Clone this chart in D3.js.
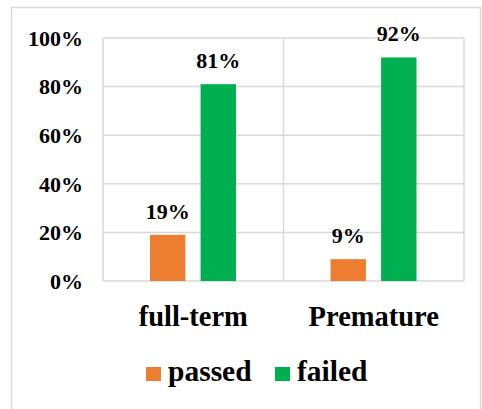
<!DOCTYPE html>
<html>
<head>
<meta charset="utf-8">
<script src="https://cdn.jsdelivr.net/npm/d3@7/dist/d3.min.js"></script>
<style>
  html, body { margin: 0; padding: 0; background: #fff; }
  svg { display: block; }
  text { font-family: "Liberation Serif", "DejaVu Serif", serif; font-weight: bold; fill: #000; }
</style>
</head>
<body>
<svg id="chart" width="482" height="409"></svg>
<script>
// Share of infants passing / failing, by birth group
const categories = ["full-term", "Premature"];
const seriesNames = ["passed", "failed"];
const passed = [19, 9];
const failed = [81, 92];
const yTicks = [0, 20, 40, 60, 80, 100];
const colors = ["#ed7d31", "#00b050"];

const svg = d3.select("#chart");
const W = 482, H = 409;

// chart frame
svg.append("rect")
  .attr("x", 11.5).attr("y", 7.5)
  .attr("width", W - 13).attr("height", H)
  .attr("fill", "#fff").attr("stroke", "#d9d9d9").attr("stroke-width", 1.5);

const plot = { left: 103, right: 464, top: 38, bottom: 281 };

const x = d3.scaleBand().domain(categories).range([plot.left, plot.right]);
const xSeries = d3.scaleBand().domain(seriesNames)
  .range([47, 133]).paddingInner(0.3);
const y = d3.scaleLinear().domain([0, 100]).range([plot.bottom, plot.top]);

const g = svg.append("g");

// horizontal gridlines
g.selectAll("line.h").data(yTicks).join("line")
  .attr("class", "h")
  .attr("x1", plot.left).attr("x2", plot.right)
  .attr("y1", d => y(d)).attr("y2", d => y(d))
  .attr("stroke", "#d9d9d9").attr("stroke-width", 1.5);

// vertical gridlines at category boundaries
const bounds = [plot.left, ...categories.map(c => x(c) + x.bandwidth())];
g.selectAll("line.v").data(bounds).join("line")
  .attr("class", "v")
  .attr("x1", d => d).attr("x2", d => d)
  .attr("y1", plot.top).attr("y2", plot.bottom)
  .attr("stroke", "#d9d9d9").attr("stroke-width", 1.5);

// y axis labels
const yAxis = d3.axisLeft(y).tickValues(yTicks).tickFormat(d => d + "%").tickSize(0).tickPadding(20);
const ya = svg.append("g").attr("transform", `translate(${plot.left},0)`).call(yAxis);
ya.select(".domain").remove();
ya.selectAll("text").attr("font-size", 22).attr("font-family", null).attr("fill", "#000").attr("dy", "0.33em");

// bars
const rows = categories.map((c, i) => ({ cat: c, values: [passed[i], failed[i]] }));
const grp = svg.selectAll("g.cat").data(rows).join("g")
  .attr("class", "cat")
  .attr("transform", d => `translate(${x(d.cat)},0)`);

grp.selectAll("rect").data(d => d.values.map((v, j) => ({ s: seriesNames[j], v, j }))).join("rect")
  .attr("x", d => xSeries(d.s))
  .attr("width", xSeries.bandwidth())
  .attr("y", d => y(d.v))
  .attr("height", d => y(0) - y(d.v))
  .attr("fill", d => colors[d.j]);

grp.selectAll("text").data(d => d.values.map((v, j) => ({ s: seriesNames[j], v }))).join("text")
  .attr("x", d => xSeries(d.s) + xSeries.bandwidth() / 2)
  .attr("y", d => y(d.v) - 16)
  .attr("text-anchor", "middle")
  .attr("font-size", 22)
  .text(d => d.v + "%");

// category labels
svg.selectAll("text.cat").data(categories).join("text")
  .attr("class", "cat")
  .attr("x", d => x(d) + x.bandwidth() / 2)
  .attr("y", 326)
  .attr("text-anchor", "middle")
  .attr("font-size", 28.5)
  .text(d => d);

// legend
const legend = svg.append("g");
const legendX = [146, 275];
seriesNames.forEach((s, i) => {
  legend.append("rect")
    .attr("x", legendX[i]).attr("y", 367)
    .attr("width", 15).attr("height", 14)
    .attr("fill", colors[i]);
  legend.append("text")
    .attr("x", legendX[i] + 22).attr("y", 381)
    .attr("font-size", 29.5)
    .text(s);
});
</script>
</body>
</html>
